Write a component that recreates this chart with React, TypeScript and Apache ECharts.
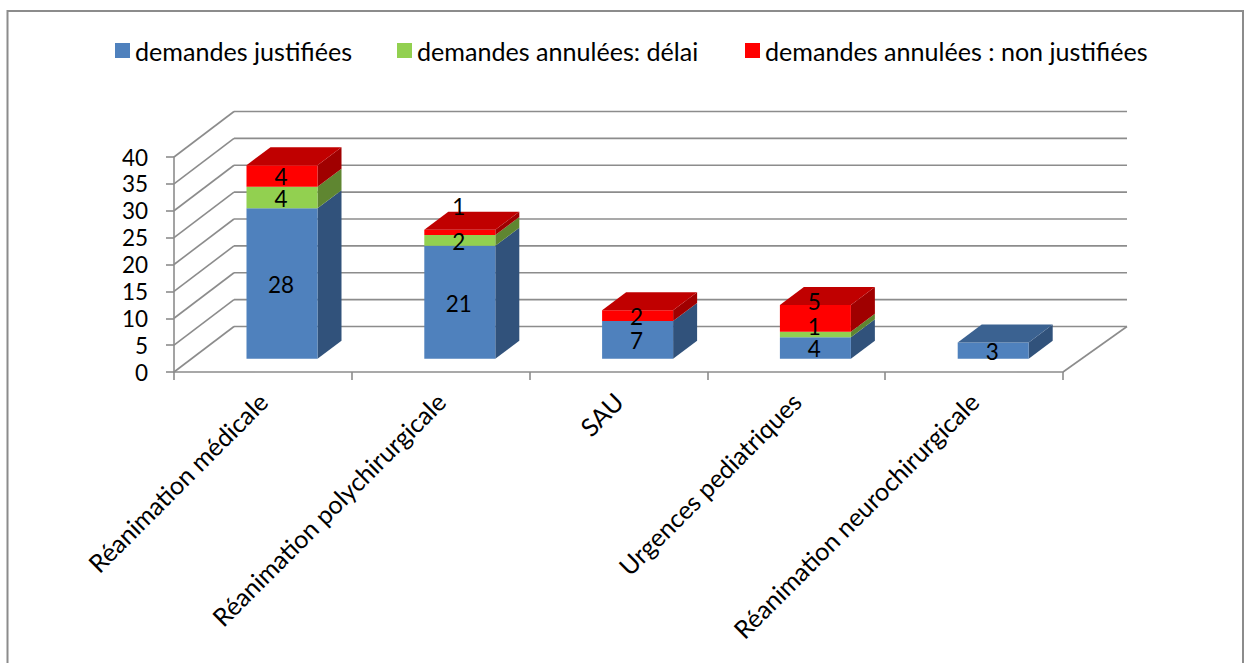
import React, { useEffect, useRef } from "react";
import * as echarts from "echarts";

const categories = [
  "Réanimation médicale",
  "Réanimation polychirurgicale",
  "SAU",
  "Urgences pediatriques",
  "Réanimation neurochirurgicale",
];
const justified = [28, 21, 7, 4, 3];
const delay = [4, 2, 0, 1, 0];
const notJustified = [4, 1, 2, 5, 0];
const seriesNames = [
  "demandes justifiées",
  "demandes annulées: délai",
  "demandes annulées : non justifiées",
];
const yTicks = [0, 5, 10, 15, 20, 25, 30, 35, 40];

const FONT = "Lato";
const FONT_SIZE = 25.1;
const NUM_SIZE = 22.5;
const GREY = "#8c8c8c";
const WALL_DX = 60;
const WALL_DY = -45.5;
const RIGHT_END = 1127;
const BAR_SHIFT_X = -16.4;
const BAR_SHIFT_Y = -13.3;
const BAR_W = 71;
const SIDE_DX = 24;
const SIDE_DY = -18;
const LEGEND_LEFTS = [110, 392, 740];
// Hand-moved data labels in the reference: series index -> category index -> px
const LABEL_NUDGE: Record<string, number> = { "2-1": -27, "1-3": -9, "2-3": -18 };

const palettes = [
  { front: "#4F81BD", side: "#31527B", top: "#3B6291" },
  { front: "#92D050", side: "#5F8631", top: "#76A73F" },
  { front: "#FF0000", side: "#A00000", top: "#C00000" },
];
const stacks = [justified, delay, notJustified];

function segmentRows(s: number) {
  return categories.map((_, i) => {
    let start = 0;
    for (let k = 0; k < s; k++) start += stacks[k][i];
    const end = start + stacks[s][i];
    let total = 0;
    for (let k = 0; k < stacks.length; k++) total += stacks[k][i];
    return [i, start, end, total];
  });
}

function labelRows() {
  const rows: number[][] = [];
  stacks.forEach((vals, s) => {
    segmentRows(s).forEach((r) => {
      if (vals[r[0]] > 0) rows.push([r[0], (r[1] + r[2]) / 2, vals[r[0]], s]);
    });
  });
  return rows;
}

function renderWall(params: any, api: any) {
  const v = api.value(1);
  const base = params.coordSys;
  const y = api.coord([0, v])[1];
  const line = (x1: number, y1: number, x2: number, y2: number) => ({
    type: "line",
    shape: { x1, y1, x2, y2 },
    style: { stroke: GREY, lineWidth: 1.6, fill: "none" },
  });
  const children: any[] = [
    line(base.x, y, base.x + WALL_DX, y + WALL_DY),
    line(base.x + WALL_DX, y + WALL_DY, RIGHT_END, y + WALL_DY),
  ];
  if (v === 0) children.push(line(base.x + base.width, y, RIGHT_END, y + WALL_DY));
  return { type: "group", children };
}

function renderSegment(s: number) {
  return (_params: any, api: any) => {
    const i = api.value(0);
    const start = api.value(1);
    const end = api.value(2);
    const total = api.value(3);
    if (end <= start) return null;
    const cx = api.coord([i, 0])[0];
    const x0 = cx + BAR_SHIFT_X;
    const x1 = x0 + BAR_W;
    const yb = api.coord([i, start])[1] + BAR_SHIFT_Y;
    const yt = api.coord([i, end])[1] + BAR_SHIFT_Y;
    const p = palettes[s];
    const children: any[] = [
      {
        type: "polygon",
        shape: { points: [[x1, yb], [x1 + SIDE_DX, yb + SIDE_DY], [x1 + SIDE_DX, yt + SIDE_DY], [x1, yt]] },
        style: { fill: p.side },
      },
      {
        type: "rect",
        shape: { x: x0, y: yt, width: BAR_W, height: yb - yt },
        style: { fill: p.front },
      },
    ];
    if (end === total) {
      children.push({
        type: "polygon",
        shape: { points: [[x0, yt], [x0 + SIDE_DX, yt + SIDE_DY], [x1 + SIDE_DX, yt + SIDE_DY], [x1, yt]] },
        style: { fill: p.top },
      });
    }
    return { type: "group", children };
  };
}

function renderLabel(_params: any, api: any) {
  const i = api.value(0);
  const mid = api.value(1);
  const val = api.value(2);
  const s = api.value(3);
  const cx = api.coord([i, 0])[0] + BAR_SHIFT_X + BAR_W / 2 - 1;
  const y = api.coord([i, mid])[1] + BAR_SHIFT_Y + 1 + (LABEL_NUDGE[s + "-" + i] || 0);
  return {
    type: "text",
    style: {
      text: String(val),
      x: cx,
      y,
      fill: "#000",
      fontFamily: FONT,
      fontSize: NUM_SIZE,
      textAlign: "center",
      textVerticalAlign: "middle",
    },
  };
}

export default function App() {
  const ref = useRef<HTMLDivElement>(null);
  useEffect(() => {
    const chart = echarts.init(ref.current!, null, { renderer: "svg" });
    chart.setOption({
      animation: false,
      backgroundColor: "#fff",
      textStyle: { fontFamily: FONT },
      graphic: [
        {
          type: "rect",
          shape: { x: 7.5, y: 11, width: 1235.5, height: 680 },
          style: { fill: "none", stroke: GREY, lineWidth: 2 },
          silent: true,
        },
      ],
      legend: seriesNames.map((name, s) => ({
        left: LEGEND_LEFTS[s],
        top: 33,
        icon: "rect",
        itemWidth: 15,
        itemHeight: 15,
        data: [name],
        textStyle: { fontFamily: FONT, fontSize: FONT_SIZE, color: "#000" },
      })),
      grid: { left: 174, top: 157, width: 889, height: 215 },
      xAxis: {
        type: "category",
        data: categories,
        axisLine: { lineStyle: { color: GREY, width: 1.6 } },
        axisTick: { show: true, length: 8, lineStyle: { color: GREY, width: 1.6 } },
        axisLabel: {
          interval: 0,
          rotate: 45,
          margin: 25,
          color: "#000",
          fontFamily: FONT,
          fontSize: FONT_SIZE,
        },
      },
      yAxis: {
        type: "value",
        min: 0,
        max: 40,
        interval: 5,
        splitLine: { show: false },
        axisLine: { show: true, lineStyle: { color: GREY, width: 1.6 } },
        axisTick: { show: true, length: 8, lineStyle: { color: GREY, width: 1.6 } },
        axisLabel: { margin: 26, color: "#000", fontFamily: FONT, fontSize: NUM_SIZE },
      },
      series: [
        {
          type: "custom",
          name: "wall",
          renderItem: renderWall,
          data: yTicks.map((v) => [0, v]),
          encode: { x: 0, y: 1 },
          silent: true,
        },
        ...seriesNames.map((name, s) => ({
          type: "custom",
          name,
          renderItem: renderSegment(s),
          data: segmentRows(s),
          encode: { x: 0, y: 2 },
          itemStyle: { color: palettes[s].front },
          silent: true,
        })),
        {
          type: "custom",
          name: "labels",
          renderItem: renderLabel,
          data: labelRows(),
          encode: { x: 0, y: 1 },
          silent: true,
          z: 5,
        },
      ],
    });
    return () => chart.dispose();
  }, []);
  return (
    <div
      ref={ref}
      style={{ position: "fixed", left: 0, top: 0, width: 1247, height: 663 }}
    />
  );
}
